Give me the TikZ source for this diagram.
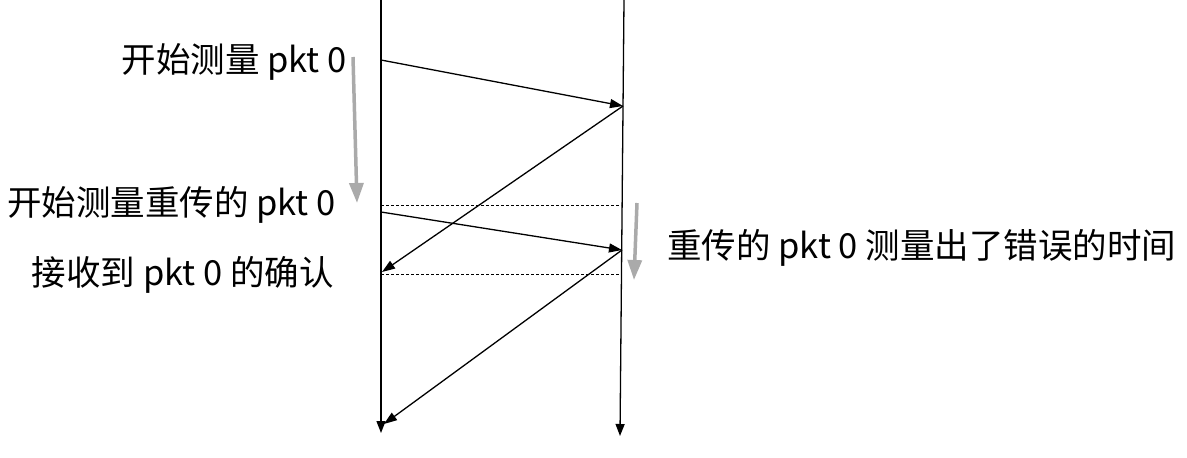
\documentclass[tikz,border=0pt]{standalone}
\usepackage{fontspec}
\newfontfamily\cjk{Noto Sans CJK SC}
\usetikzlibrary{arrows.meta}
\begin{document}
\begin{tikzpicture}[x=1pt,y=-1pt,
  lifeline/.style={line width=1.3pt,-{Triangle[length=12pt,width=9pt]}},
  msg/.style={line width=1.3pt,-{Triangle[length=13pt,width=9pt]}},
  sep/.style={line width=0.8pt,dash pattern=on 2.5pt off 2.5pt},
  span/.style={line width=3.5pt,draw={rgb,255:red,170;green,170;blue,170},-{Triangle[length=20pt,width=14pt]}},
  lbl/.style={inner sep=0pt,font=\cjk\fontsize{34.5}{40}\selectfont}]
\useasboundingbox (0,0) rectangle (1187,458);
% lifelines
\coordinate (Ltop) at (381,0);
\coordinate (Lbot) at (381,433);
\coordinate (Rtop) at (624,0);
\coordinate (Rbot) at (620,436);
\draw[lifeline] (Ltop) -- (Lbot);
\draw[lifeline] (Rtop) -- (Rbot);
% message points
\coordinate (a1) at (381,60);
\coordinate (b1) at (623,106);
\coordinate (a2) at (382,272);
\coordinate (a3) at (381,212);
\coordinate (b3) at (622,250);
\coordinate (a4) at (384,424);
\draw[msg] (a1) -- (b1);
\draw[msg] (b1) -- (a2);
\draw[msg] (a3) -- (b3);
\draw[msg] (b3) -- (a4);
% dotted separators
\coordinate (d1l) at (381,205);
\coordinate (d1r) at (621,205);
\coordinate (d2l) at (381,274);
\coordinate (d2r) at (621,274);
\draw[sep] (d1l) -- (d1r);
\draw[sep] (d2l) -- (d2r);
% grey measurement arrows
\coordinate (g1s) at (353,57);
\coordinate (g1e) at (357,203);
\coordinate (g2s) at (637,203);
\coordinate (g2e) at (634,280);
\draw[span] (g1s) -- (g1e);
\draw[span] (g2s) -- (g2e);
% labels
\node[lbl,anchor=base east] (t1) at (347,72) {开始测量 pkt 0};
\node[lbl,anchor=base east] (t2) at (336,215) {开始测量重传的 pkt 0};
\node[lbl,anchor=base east] (t3) at (334,285) {接收到 pkt 0 的确认};
\node[lbl,anchor=base west] (t4) at (667,258) {重传的 pkt 0 测量出了错误的时间};
\end{tikzpicture}
\end{document}
